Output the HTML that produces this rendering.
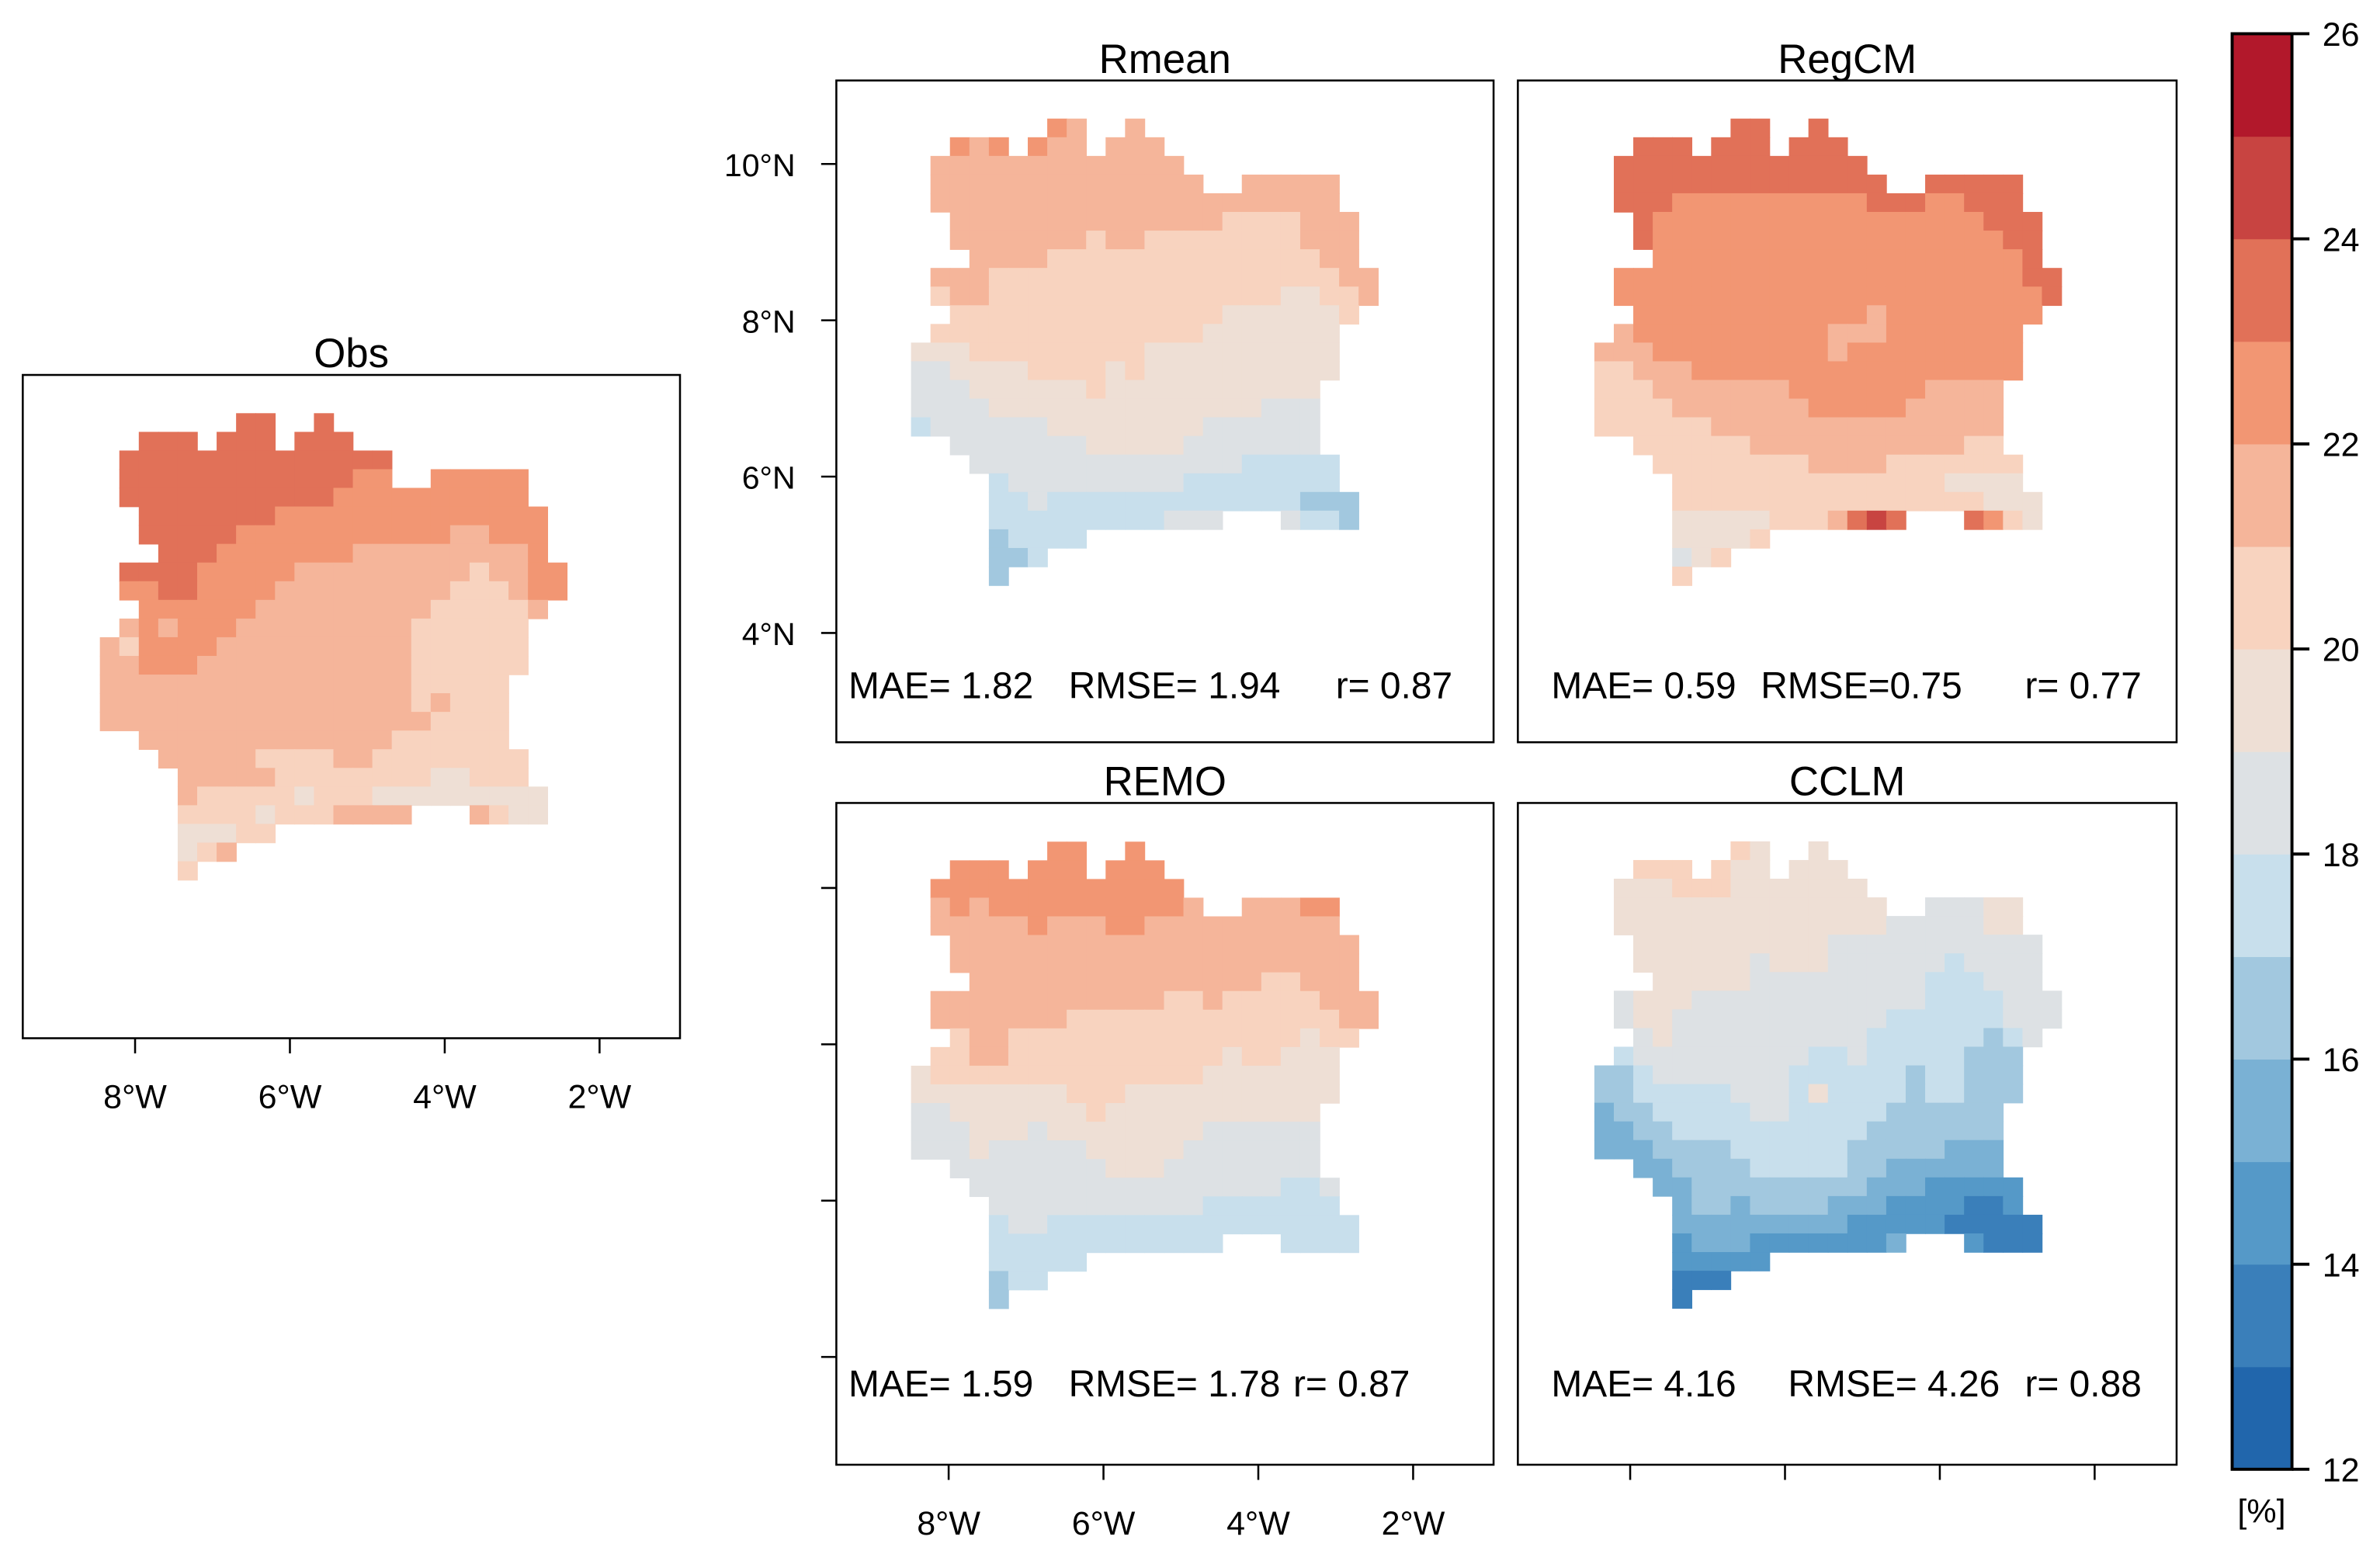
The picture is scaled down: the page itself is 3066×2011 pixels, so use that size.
<!DOCTYPE html>
<html><head><meta charset="utf-8"><style>
html,body{margin:0;padding:0;background:#fff;}
svg{display:block;font-family:"Liberation Sans",Arial,sans-serif;}
</style></head><body>
<svg id="chart" width="3066" height="2011" viewBox="0 0 1568 1028.4" xmlns="http://www.w3.org/2000/svg"></svg>
<script>
// ---- data ----
const binBreaks = [12,13,14,15,16,17,18,19,20,21,22,23,24,25,26];
const binCodes = "abcdefghijklmn";
const binColors = ["#2166ac","#3a7fba","#5599c8","#7ab1d4","#a2c8df","#c8dfec","#dde1e4","#eedfd5","#f8d3bf","#f5b59a","#f29673","#e17158","#c84441","#b2182b"];
const colorbarTicks = [12,14,16,18,20,22,24,26];
const lonTicks = [-8,-6,-4,-2];
const latTicks = [10,8,6,4];
const obsGrid = [
".......ll..l............","..lll.lll.lll...........",".llllllllllllll.........",
".llllllllllllkk..kkkkk..",".lllllllllllkkkkkkkkkk..","..lllllllkkkkkkkkkkkkkk.",
"..lllllkkkkkkkkkkkjjkkk.","...lllkkkkkkkjjjjjjjjjk.",".llllkkkkkjjjjjjjjjijjkk",
".kkllkkkkjjjjjjjjjiiijkk","..kkkkkkjjjjjjjjjiiiiij.",".jkjkkkjjjjjjjjjiiiiii..",
"jikkkkjjjjjjjjjjiiiiii..","jjkkkjjjjjjjjjjjiiiiii..","jjjjjjjjjjjjjjjjiiiii...",
"jjjjjjjjjjjjjjjjijiii...","jjjjjjjjjjjjjjjjjiiii...","..jjjjjjjjjjjjjiiiiii...",
"...jjjjjiiiijjiiiiiiii..","....jjjjjiiiiiiiihhiii..","....jiiiiihiiihhhhhhhhh.",
"....iiiihiiijjjj...jihh.","....hhhii...............","....hij.................",
"....i..................."];
const rmeanGrid = [
".......kj..j............","..kjk.kjj.jjj...........",".jjjjjjjjjjjjj..........",
".jjjjjjjjjjjjjj..jjjjj..",".jjjjjjjjjjjjjjjjjjjjj..","..jjjjjjjjjjjjjjiiiijjj.",
"..jjjjjjjijjiiiiiiiijjj.","...jjjjiiiiiiiiiiiiiijj.",".jjjiiiiiiiiiiiiiiiiiijj",
".ijjiiiiiiiiiiiiiiihhiij","..iiiiiiiiiiiiiihhhhhhi.",".iiiiiiiiiiiiiihhhhhhh..",
"hhhiiiiiiiiihhhhhhhhhh..","gghhhhiiiihihhhhhhhhhh..","ggghhhhhhihhhhhhhhhhh...",
"gggghhhhhhhhhhhhhhggg...","fgggggghhhhhhhhgggggg...","..ggggggghhhhhggggggg...",
"...ggggggggggggggfffff..","....fgggggggggffffffff..","....ffgfffffffffffffeee.",
"....fffffffffggg...gffe.","....effff...............","....eef.................",
"....e..................."];
const regcmGrid = [
".......ll..l............","..lll.lll.lll...........",".lllllllllllll..........",
".llllllllllllll..lllll..",".lllkkkkkkkkkklllkklll..","..lkkkkkkkkkkkkkkkkklll.",
"..lkkkkkkkkkkkkkkkkkkll.","...kkkkkkkkkkkkkkkkkkkl.",".kkkkkkkkkkkkkkkkkkkkkll",
".kkkkkkkkkkkkkkkkkkkkkkl","..kkkkkkkkkkkkjkkkkkkkk.",".jkkkkkkkkkkjjjkkkkkkk..",
"jjjkkkkkkkkkjkkkkkkkkk..","iijjjkkkkkkkkkkkkkkkkk..","iiijjjjjjjkkkkkkkjjjj...",
"iiiijjjjjjjkkkkkjjjjj...","iiiiiijjjjjjjjjjjjjjj...","..iiiiiijjjjjjjjjjjii...",
"...iiiiiiiijjjjiiiiiii..","....iiiiiiiiiiiiiihhhh..","....iiiiiiiiiiiiiiiihhh.",
"....hhhhhiiijlml...lkih.","....hhhhi...............","....ghi.................",
"....i..................."];
const remoGrid = [
".......kk..k............","..kkk.kkk.kkk...........",".kkkkkkkkkkkkk..........",
".jkjkkkkkkkkkkj..jjjkk..",".jjjjjkjjjkkjjjjjjjjjj..","..jjjjjjjjjjjjjjjjjjjjj.",
"..jjjjjjjjjjjjjjjjjjjjj.","...jjjjjjjjjjjjjjjiijjj.",".jjjjjjjjjjjjiijiiiiijjj",
".jjjjjjjiiiiiiiiiiiiiijj","..ijjiiiiiiiiiiiiiiihii.",".iijjiiiiiiiiiiihiihhh..",
"hiiiiiiiiiiiiiihhhhhhh..","hhhhhhhhiiihhhhhhhhhhh..","gghhhhhhhihhhhhhhhhhh...",
"ggghhhghhhhhhhhgggggg...","ggghggggghhhhhggggggg...","..gggggggghhhgggggggg...",
"...ggggggggggggggggffg..","....gggggggggggfffffff..","....fggffffffffffffffff.",
"....ffffffffffff...ffff.","....fffff...............","....eff.................",
"....e..................."];
const cclmGrid = [
".......ih..h............","..iii.ihh.hhh...........",".hhhiiihhhhhhh..........",
".hhhhhhhhhhhhhh..ggghh..",".hhhhhhhhhhhhhhggggghh..","..hhhhhhhhhhggggggggggg.",
"..hhhhhhghhhggggggfgggg.","...hhhhhgggggggggfffggg.",".ghhhggggggggggggffffggg",
".ghhgggggggggggffffffggg","..ghggggggggggffffffefg.",".fgggggggggffgfffffeee..",
"eefgggggggffffffeffeee..","eefffffgggfhffffeffeee..","deefffffggfffffeeeeee...",
"ddeeffffffffffeeeeeee...","dddeeeeffffffeeeeeddd...","..ddeeeefffffeedddddd...",
"...ddeeeeeeeeedddccccc..","....deedeeeedddccccbbc..","....dddddddddcccccbbbbb.",
"....cdddcccccccd...cbbb.","....ccccc...............","....bbb.................",
"....b..................."];
const panelTitles = ["Obs","Rmean","RegCM","REMO","CCLM"];
const panelMAE = ["", "1.82","0.59","1.59","4.16"];
const panelRMSE = ["", "1.94","0.75","1.78","4.26"];
const panelR = ["", "0.87","0.77","0.87","0.88"];

// ---- layout ----
const NS="http://www.w3.org/2000/svg";
const svg=document.getElementById('chart');
function el(tag,attrs,parent){const e=document.createElementNS(NS,tag);for(const k in attrs)e.setAttribute(k,attrs[k]);(parent||svg).appendChild(e);return e;}
const CW=12.82, RH=12.3;
const panels=[
 {grid:obsGrid, frame:[15,247,448,684], gx:65.8, gy:272.2, name:"obs"},
 {grid:rmeanGrid, frame:[551,53,984,489], gx:600.2, gy:78.1, name:"rmean"},
 {grid:regcmGrid, frame:[1000,53,1434,489], gx:1050.4, gy:78.1, name:"regcm"},
 {grid:remoGrid, frame:[551,529,984,965], gx:600.2, gy:554.5, name:"remo"},
 {grid:cclmGrid, frame:[1000,529,1434,965], gx:1050.4, gy:554.3, name:"cclm"}];
const statPos=[null,[559,704,880,460],[1022,1160,1334,460],[559,704,852,920],[1022,1178,1334,920]];
const rmseSep=[null," ","",  " "," "];

panels.forEach((p,pi)=>{
  const g=el('g',{});
  
  
  const xs=c=>p.gx+c*CW, ys=r=>p.gy+r*RH;
  p.grid.forEach((row,r)=>{
    for(let c=0;c<row.length;c++){
      const k=binCodes.indexOf(row[c]); if(k<0) continue;
      const rc=el('rect',{x:xs(c).toFixed(2),y:ys(r).toFixed(2),width:(CW+0.4).toFixed(2),height:(RH+0.4).toFixed(2),fill:binColors[k]},g);
      
      
    }
  });
  const f=p.frame;
  const fr=el('rect',{x:f[0],y:f[1],width:f[2]-f[0],height:f[3]-f[1],fill:'none',stroke:'#000','stroke-width':1.3},g);
  
  
  const t=el('text',{x:(f[0]+f[2])/2,y:f[1]-5,'text-anchor':'middle','font-size':27},g);
  t.textContent=panelTitles[pi];
  
  
  if(pi>0){
    const s=statPos[pi];
    const a=el('text',{x:s[0],y:s[3],'font-size':24.5},g); a.textContent="MAE= "+panelMAE[pi];
    
    
    const b=el('text',{x:s[1],y:s[3],'font-size':24.5},g); b.textContent="RMSE="+rmseSep[pi]+panelRMSE[pi];
    
    
    const c=el('text',{x:s[2],y:s[3],'font-size':24.5},g); c.textContent="r= "+panelR[pi];
    
    
  }
});

// axes
const lonX=(base,lon)=>base+(lon+8)*51;
const latY=(base,lat)=>base+(10-lat)*51.5;
function lonAxis(base,yb,labels,name){
  lonTicks.forEach(l=>{
    const x=lonX(base,l);
    const tk=el('line',{x1:x,x2:x,y1:yb,y2:yb+10,stroke:'#000','stroke-width':1.3});
    
    
    if(labels){
      const t=el('text',{x:x,y:yb+46,'text-anchor':'middle','font-size':22});
      t.textContent=(-l)+"°W";
      
      
    }
  });
}
lonAxis(89,684,true,'obs-x-axis');
lonAxis(625,965,true,'remo-x-axis');
lonAxis(1074,965,false,'cclm-x-axis');
function latAxis(base,labels,name){
  latTicks.forEach(l=>{
    const y=latY(base,l);
    const tk=el('line',{x1:541,x2:551,y1:y,y2:y,stroke:'#000','stroke-width':1.3});
    
    
    if(labels){
      const t=el('text',{x:524,y:y+8,'text-anchor':'end','font-size':21});
      t.textContent=l+"°N";
      
      
    }
  });
}
latAxis(108,true,'rmean-y-axis');
latAxis(585,false,'remo-y-axis');

// colorbar
const cbTop=22.2, cbBot=968, cbX=1470.6, cbW=39.4;
const cbY=v=>cbBot-(v-12)/(26-12)*(cbBot-cbTop);
const cb=el('g',{});


binColors.forEach((col,i)=>{
  const y0=cbY(binBreaks[i+1]), y1=cbY(binBreaks[i]);
  const r=el('rect',{x:cbX,y:y0,width:cbW,height:y1-y0+0.3,fill:col},cb);
  
  
});
const cbf=el('rect',{x:cbX,y:cbTop,width:cbW,height:cbBot-cbTop,fill:'none',stroke:'#000','stroke-width':2},cb);


colorbarTicks.forEach(v=>{
  const y=cbY(v);
  const tk=el('line',{x1:cbX+cbW,x2:1521.5,y1:y,y2:y,stroke:'#000','stroke-width':2},cb);
  
  
  const t=el('text',{x:1530,y:y+8,'font-size':22},cb);
  t.textContent=v;
  
  
});
const unit=el('text',{x:1490,y:1003,'text-anchor':'middle','font-size':22},cb);
unit.textContent="[%]";


</script>
</body></html>
